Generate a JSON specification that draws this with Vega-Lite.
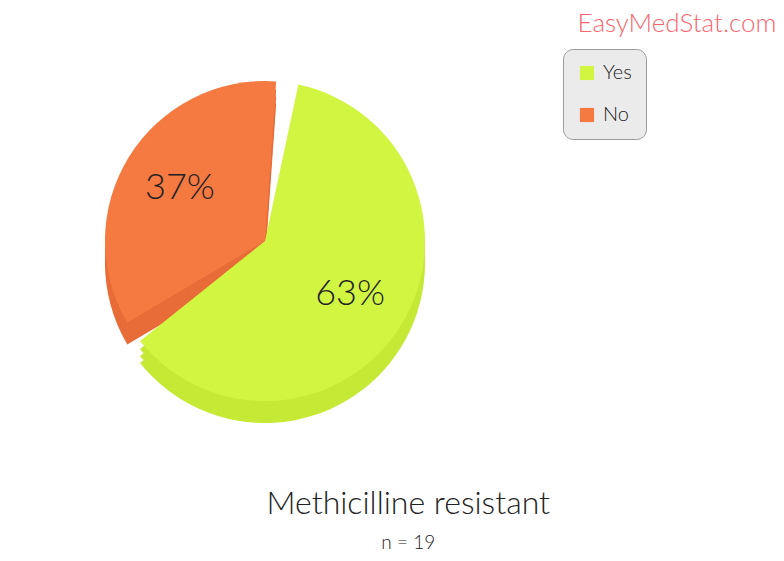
{
  "$schema": "https://vega.github.io/schema/vega-lite/v6.json",
  "background": "white",
  "padding": {"left": 0, "top": 11, "right": 6, "bottom": 5},
  "datasets": {
    "pie": [
      {"answer": "Yes", "n": 12, "ord": 1, "pct": "63%"},
      {"answer": "No", "n": 7, "ord": 2, "pct": "37%"}
    ]
  },
  "title": {
    "text": "Methicilline resistant",
    "subtitle": "n = 19",
    "orient": "bottom",
    "anchor": "middle",
    "dx": 20,
    "offset": 48,
    "fontSize": 32,
    "fontWeight": 300,
    "color": "#222222",
    "subtitleFontSize": 19,
    "subtitleFontWeight": 300,
    "subtitleColor": "#222222",
    "subtitlePadding": 13
  },
  "vconcat": [
    {
      "width": 530,
      "height": 400,
      "title": {
        "text": "EasyMedStat.com",
        "anchor": "end",
        "dx": 130,
        "fontSize": 26,
        "fontWeight": 300,
        "color": "#F7666E",
        "offset": 4
      },
      "data": {"name": "pie"},
      "encoding": {
        "theta": {"field": "n", "type": "quantitative", "stack": true, "scale": {"range": [0.14, 6.423]}},
        "order": {"field": "ord", "type": "quantitative"}
      },
      "layer": [
        {
          "mark": {"type": "arc", "radius": 160, "padAngle": 0.14, "yOffset": 22},
          "encoding": {"color": {"field": "answer", "type": "nominal", "scale": {"domain": ["Yes", "No"], "range": ["#C5E935", "#E86C38"]}, "legend": null}}
        },
        {
          "mark": {"type": "arc", "radius": 160, "padAngle": 0.14, "yOffset": 15},
          "encoding": {"color": {"field": "answer", "type": "nominal", "scale": {"domain": ["Yes", "No"], "range": ["#C5E935", "#E86C38"]}, "legend": null}}
        },
        {
          "mark": {"type": "arc", "radius": 160, "padAngle": 0.14, "yOffset": 8},
          "encoding": {"color": {"field": "answer", "type": "nominal", "scale": {"domain": ["Yes", "No"], "range": ["#C5E935", "#E86C38"]}, "legend": null}}
        },
        {
          "mark": {"type": "arc", "radius": 160, "padAngle": 0.14},
          "encoding": {
            "color": {
              "field": "answer",
              "type": "nominal",
              "scale": {"domain": ["Yes", "No"], "range": ["#D2F542", "#F47A42"]},
              "legend": {
                "title": null,
                "orient": "none",
                "legendX": 563,
                "legendY": 8,
                "symbolType": "square",
                "symbolSize": 200,
                "symbolStrokeWidth": 0,
                "labelFontSize": 20,
                "labelFontWeight": 300,
                "labelColor": "#222222",
                "labelOffset": 6,
                "rowPadding": 22,
                "padding": 14,
                "fillColor": "#EBEBEB",
                "strokeColor": "#9A9A9A",
                "cornerRadius": 10
              }
            }
          }
        },
        {
          "mark": {"type": "text", "radius": 100, "fontSize": 36, "fontWeight": 300, "color": "#222222"},
          "encoding": {"text": {"field": "pct", "type": "nominal"}}
        }
      ],
      "resolve": {"scale": {"color": "independent"}}
    }
  ],
  "config": {
    "font": "Lato",
    "view": {"stroke": null},
    "concat": {"spacing": 0}
  }
}
